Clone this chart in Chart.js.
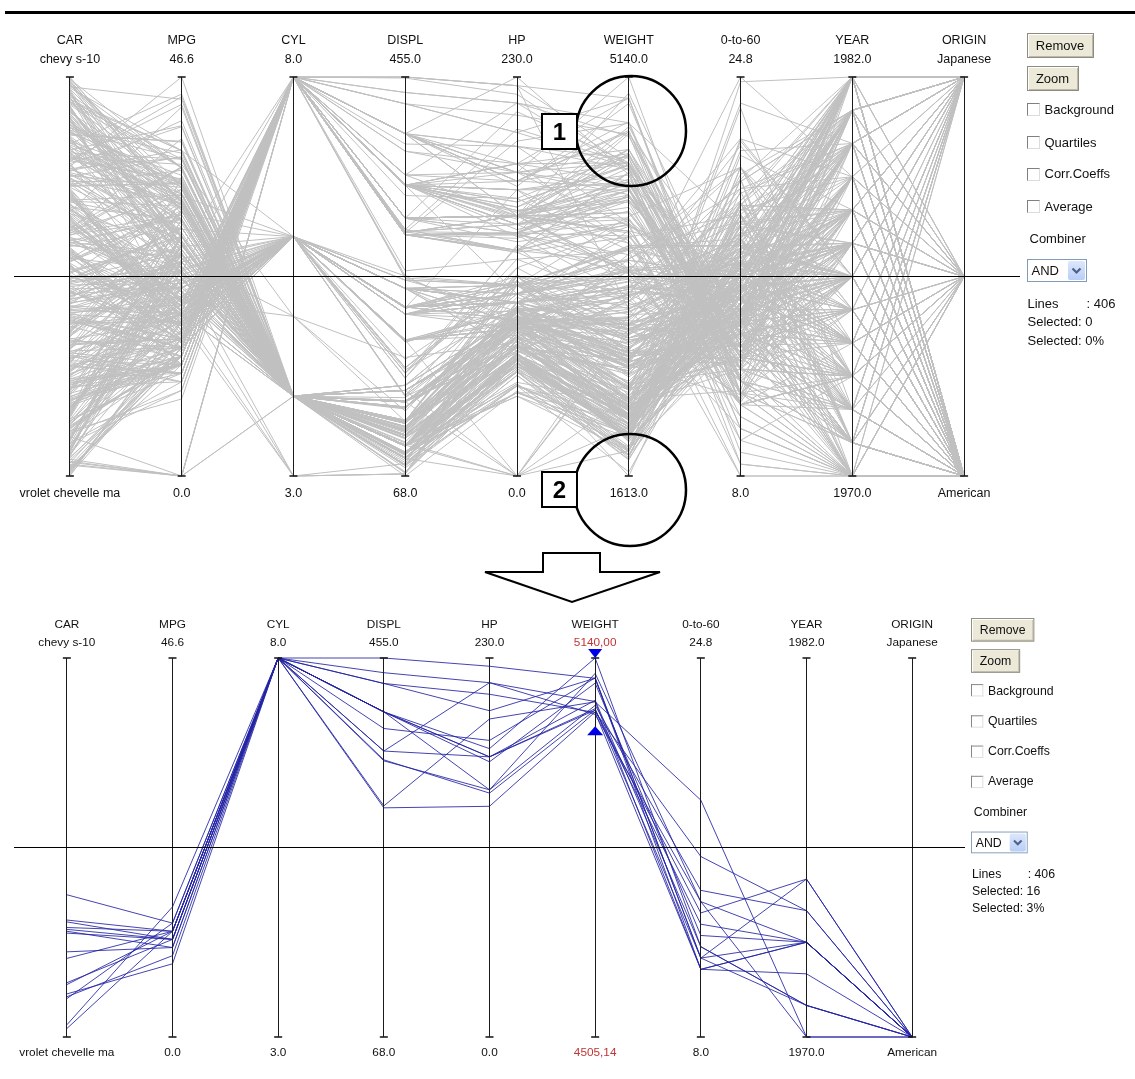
<!DOCTYPE html>
<html><head><meta charset="utf-8">
<script src="https://cdn.jsdelivr.net/npm/chart.js"></script>
<style>
html,body{margin:0;padding:0;background:#fff;}
body{width:1135px;height:1079px;position:relative;overflow:hidden;font-family:"Liberation Sans",Arial,Helvetica,sans-serif;color:#111;}
canvas{position:absolute;left:0;}
#rule{position:absolute;left:5px;top:11px;width:1130px;height:3px;background:#000;}
#overlay{position:absolute;left:0;top:0;}
.panel{position:absolute;width:130px;height:320px;transform-origin:0 0;font-size:13px;}
.btn{position:absolute;left:0;height:25px;box-sizing:border-box;background:#ece9d8;border:1px solid #8e8c80;text-align:center;line-height:23px;box-shadow:inset 1px 1px 0 #fff,inset -1px -1px 0 #bdb9a8;}
.cb{position:absolute;left:0;width:13px;height:13px;box-sizing:border-box;background:#fff;border-top:1px solid #808080;border-left:1px solid #808080;border-right:1px solid #dcdcdc;border-bottom:1px solid #dcdcdc;}
.lbl{position:absolute;height:16px;line-height:16px;white-space:nowrap;}
.sel{position:absolute;left:0;width:60px;height:23px;box-sizing:border-box;border:1px solid #7f9db9;background:#fff;}
.sel span{position:absolute;left:4px;top:0;line-height:21px;}
.dd{position:absolute;right:1px;top:1px;width:17px;height:19px;background:linear-gradient(#dde7fd,#b9cdf6);border-radius:2px;}
</style>
</head>
<body>
<div id="rule"></div>
<canvas id="c1" width="1030" height="520" style="top:0"></canvas>
<canvas id="c2" width="1030" height="519" style="top:560px"></canvas>
<svg id="overlay" width="1135" height="1079">
  <circle cx="631" cy="131" r="55" fill="none" stroke="#000" stroke-width="2.5"/>
  <rect x="542" y="114" width="35" height="35" fill="#fff" stroke="#000" stroke-width="2"/>
  <text x="559.5" y="140" font-family="Liberation Sans, Arial, sans-serif" font-size="24" font-weight="bold" text-anchor="middle">1</text>
  <circle cx="630" cy="490" r="56" fill="none" stroke="#000" stroke-width="2.5"/>
  <rect x="542" y="472" width="35" height="35" fill="#fff" stroke="#000" stroke-width="2"/>
  <text x="559.5" y="498" font-family="Liberation Sans, Arial, sans-serif" font-size="24" font-weight="bold" text-anchor="middle">2</text>
  <path d="M543,553 L600,553 L600,572 L660,572 L572,602 L485,572 L543,572 Z" fill="#fff" stroke="#000" stroke-width="2" stroke-linejoin="miter"/>
</svg>
<script>
// ---------- axes ----------
const axisNames = ['CAR','MPG','CYL','DISPL','HP','WEIGHT','0-to-60','YEAR','ORIGIN'];
const axisTopLabels = ['chevy s-10','46.6','8.0','455.0','230.0','5140.0','24.8','1982.0','Japanese'];
const axisBottomLabels = ['vrolet chevelle ma','0.0','3.0','68.0','0.0','1613.0','8.0','1970.0','American'];
const zoomTopLabels = ['chevy s-10','46.6','8.0','455.0','230.0','5140,00','24.8','1982.0','Japanese'];
const zoomBottomLabels = ['vrolet chevelle ma','0.0','3.0','68.0','0.0','4505,14','8.0','1970.0','American'];
const axisMin = [0, 0, 3, 68, 0, 1613, 8, 1970, 0];
const axisMax = [405, 46.6, 8, 455, 230, 5140, 24.8, 1982, 2];
const originNames = ['American','European','Japanese'];
const weightFilter = [4505.14, 5140];
const topStats = ['406','0','0%'];
const zoomStats = ['406','16','3%'];

// ---------- cars: [car index, mpg, cyl, displ, hp, weight, 0-to-60, year, origin] ----------
const selectedCars = [
 [43, 10, 8, 360, 215, 4615, 14, 1970, 0],
 [46, 9, 8, 304, 193, 4732, 18.5, 1970, 0],
 [123, 12, 8, 383, 180, 4955, 11.5, 1971, 0],
 [125, 13, 8, 400, 170, 4746, 12, 1971, 0],
 [117, 13, 8, 400, 175, 5140, 12, 1971, 0],
 [91, 11, 8, 429, 208, 4633, 11, 1972, 0],
 [113, 11, 8, 400, 150, 4997, 14, 1973, 0],
 [115, 12, 8, 400, 167, 4906, 12.5, 1973, 0],
 [84, 13, 8, 360, 170, 4654, 13, 1973, 0],
 [111, 12, 8, 429, 198, 4952, 11.5, 1973, 0],
 [9, 13, 8, 440, 215, 4735, 11, 1973, 0],
 [58, 12, 8, 455, 225, 4951, 11, 1973, 0],
 [152, 14, 8, 302, 140, 4638, 16, 1974, 0],
 [56, 13, 8, 350, 150, 4699, 14.5, 1974, 0],
 [41, 14, 8, 351, 148, 4657, 13.5, 1975, 0],
 [13, 16, 8, 400, 170, 4668, 11.5, 1975, 0]
];
const backgroundCars = [
 [0,18,8,307,130,3504,12,1970,0],[1,15,8,350,165,3693,11.5,1970,0],[2,18,8,318,150,3436,11,1970,0],
 [3,16,8,304,150,3433,12,1970,0],[4,17,8,302,140,3449,10.5,1970,0],[5,15,8,429,198,4341,10,1970,0],
 [6,14,8,454,220,4354,9,1970,0],[7,14,8,440,215,4312,8.5,1970,0],[8,14,8,455,225,4425,10,1970,0],
 [10,15,8,390,190,3850,8.5,1970,0],[11,0,4,133,115,3090,17.5,1970,1],[12,0,8,350,165,4142,11.5,1970,0],
 [14,0,8,351,153,4034,11,1970,0],[15,0,8,383,175,4166,10.5,1970,0],[16,14,8,340,160,3609,8,1970,0],
 [18,15,8,400,150,3761,9.5,1970,0],[19,14,8,455,225,3086,10,1970,0],[20,24,4,113,95,2372,15,1970,2],
 [21,22,6,198,95,2833,15.5,1970,0],[22,18,6,199,97,2774,15.5,1970,0],[23,21,6,200,85,2587,16,1970,0],
 [24,27,4,97,88,2130,14.5,1970,2],[25,26,4,97,46,1835,20.5,1970,1],[26,25,4,110,87,2672,17.5,1970,1],
 [27,24,4,107,90,2430,14.5,1970,1],[28,25,4,104,95,2375,17.5,1970,1],[29,26,4,121,113,2234,12.5,1970,1],
 [30,21,6,199,90,2648,15,1970,0],[33,10,8,307,200,4376,15,1970,0],[34,11,8,318,210,4382,13.5,1970,0],
 [36,27,4,97,88,2130,14.5,1971,2],[37,28,4,140,90,2264,15.5,1971,0],[38,25,4,113,95,2228,14,1971,2],
 [39,25,4,98,0,2046,19,1971,0],[40,0,4,97,48,1978,20,1971,1],[42,19,6,232,100,2634,13,1971,0],
 [44,16,6,225,105,3439,15.5,1971,0],[45,17,6,250,100,3329,15.5,1971,0],[47,19,6,250,88,3302,15.5,1971,0],
 [48,14,8,350,165,4209,12,1971,0],[49,14,8,400,175,4464,11.5,1971,0],[50,14,8,351,153,4154,13.5,1971,0],
 [51,14,8,318,150,4096,13,1971,0],[53,18,6,258,110,2962,13.5,1971,0],[54,22,4,140,72,2408,19,1971,0],
 [55,19,6,250,100,3282,15,1971,0],[57,23,4,122,86,2220,14,1971,0],[59,28,4,116,90,2123,14,1971,1],
 [60,30,4,79,70,2074,19.5,1971,1],[61,30,4,88,76,2065,14.5,1971,1],[62,31,4,71,65,1773,19,1971,2],
 [63,35,4,72,69,1613,18,1971,2],[64,27,4,97,60,1834,19,1971,1],[65,26,4,91,70,1955,20.5,1971,0],
 [66,24,4,113,95,2278,15.5,1972,2],[67,25,4,97.5,80,2126,17,1972,0],[68,23,4,97,54,2254,23.5,1972,1],
 [69,20,4,140,90,2408,19.5,1972,0],[70,21,4,122,86,2226,16.5,1972,0],[71,13,8,350,165,4274,12,1972,0],
 [72,14,8,400,175,4385,12,1972,0],[73,15,8,318,150,4135,13.5,1972,0],[75,17,8,304,150,3672,11.5,1972,0],
 [77,13,8,350,155,4502,13.5,1972,0],[78,12,8,350,160,4456,13.5,1972,0],[79,13,8,400,190,4422,12.5,1972,0],
 [80,15,8,304,150,3892,12.5,1972,0],[81,13,8,307,130,4098,14,1972,0],[82,22,4,121,76,2511,18,1972,1],
 [83,28,4,97,92,2288,17,1972,2],[85,19,3,70,97,2330,13.5,1972,2],[86,28,4,98,80,2164,15,1972,0],
 [87,23,4,120,97,2506,14.5,1972,2],[88,27,4,97,88,2100,16.5,1972,2],[89,13,8,350,175,4100,13,1973,0],
 [92,15,8,318,150,3777,12.5,1973,0],[93,13,8,350,145,3988,13,1973,0],[95,13,8,360,175,3821,11,1973,0],
 [97,13,8,351,158,4363,13,1973,0],[99,12,8,350,180,4499,12.5,1973,0],[100,18,6,232,100,2945,16,1973,0],
 [102,19,6,250,100,3282,15,1973,0],[104,16,6,250,100,3278,18,1973,0],[106,20,4,97,88,2279,19,1973,2],
 [107,22,4,108,94,2379,16.5,1973,2],[108,18,3,70,90,2124,13.5,1973,2],[109,19,4,122,85,2310,18.5,1973,0],
 [110,26,4,98,90,2265,15.5,1973,1],[112,16,8,400,230,4278,9.5,1973,0],[114,29,4,68,49,1867,19.5,1973,1],
 [116,24,4,116,75,2158,15.5,1973,1],[118,20,4,114,91,2582,14,1973,1],[119,19,4,121,112,2868,15.5,1973,1],
 [120,15,8,318,150,3399,11,1973,0],[121,24,4,121,110,2660,14,1973,1],[122,11,8,350,180,3664,11,1973,0],
 [124,20,6,198,95,3102,16.5,1974,0],[126,19,6,232,100,2901,16,1974,0],[127,15,6,250,100,3336,17,1974,0],
 [128,31,4,79,67,1950,19,1974,2],[130,26,4,122,80,2451,16.5,1974,0],[131,32,4,71,65,1836,21,1974,2],
 [132,25,4,140,75,2542,17,1974,0],[133,16,6,250,100,3781,17,1974,0],[135,21,6,200,0,2875,17,1974,0],
 [136,16,8,302,140,4141,14,1974,0],[138,14,8,318,150,4457,13.5,1974,0],[141,29,4,98,83,2219,16.5,1974,1],
 [143,26,4,79,67,1963,15.5,1974,1],[144,26,4,97,78,2300,14.5,1974,1],[145,31,4,76,52,1649,16.5,1974,2],
 [146,32,4,83,61,2003,19,1974,2],[147,28,4,90,75,2125,14.5,1974,0],[148,24,4,90,75,2108,15.5,1974,1],
 [149,26,4,116,75,2246,14,1974,1],[150,24,4,120,97,2489,15,1974,2],[151,26,4,108,93,2391,15.5,1974,2],
 [153,31,4,79,67,2000,16,1974,1],[154,19,6,225,95,3264,16,1975,0],[155,18,6,250,105,3459,16,1975,0],
 [157,15,6,250,72,3432,21,1975,0],[158,15,6,250,72,3158,19.5,1975,0],[160,15,8,350,145,4440,14,1975,0],
 [161,16,8,318,150,4498,14.5,1975,0],[164,18,6,231,110,3907,21,1975,0],[165,21,6,231,110,3039,15,1975,0],
 [166,20,8,262,110,3221,13.5,1975,0],[167,13,8,302,129,3169,12,1975,0],[169,20,6,232,100,2914,16,1975,0],
 [170,23,4,140,83,2639,17,1975,0],[172,18,6,171,97,2984,14.5,1975,0],[173,19,6,232,90,3211,17,1975,0],
 [174,29,4,90,70,1937,14,1975,1],[175,23,4,115,95,2694,15,1975,1],[176,22,4,121,98,2945,14.5,1975,1],
 [177,25,4,121,115,2671,13.5,1975,1],[178,33,4,91,53,1795,17.5,1975,2],[183,25,4,140,92,2572,14.9,1976,0],
 [186,27,4,101,83,2202,15.3,1976,1],[189,14.5,8,351,152,4215,12.8,1976,0],[190,22,6,225,100,3233,15.4,1976,0],
 [192,24,6,200,81,3012,17.6,1976,0],[194,22.5,6,232,90,3085,17.6,1976,0],[196,29,4,90,70,1937,14.2,1976,1],
 [198,24.5,4,98,60,2164,22.1,1976,0],[200,29,4,97,78,1940,14.5,1976,1],[202,20,6,225,100,3651,17.7,1976,0],
 [204,17.5,6,258,95,3193,17.8,1976,0],[206,28,4,97,75,2155,16.4,1976,2],[208,13,8,318,150,3940,13.2,1976,0],
 [210,19,4,120,88,3270,21.9,1976,1],[211,16.5,6,168,120,3820,16.7,1976,1],[213,16.5,8,350,180,4380,12.1,1976,0],
 [214,13,8,350,145,4055,12,1976,0],[215,13,8,302,130,3870,15,1976,0],[217,31.5,4,98,68,2045,18.5,1977,2],
 [220,33.5,4,85,70,1945,16.8,1977,2],[222,17.5,8,305,145,3880,12.5,1977,0],[223,15.5,8,318,145,4140,13.7,1977,0],
 [226,20.5,6,231,105,3425,16.9,1977,0],[229,16,8,400,180,4220,11.1,1977,0],[231,15.5,8,350,170,4165,11.4,1977,0],
 [234,25.5,4,140,89,2755,15.8,1977,0],[236,30.5,4,97,78,2190,14.1,1977,1],[238,21.5,3,80,110,2720,13.5,1977,2],
 [241,21.5,4,121,110,2600,12.8,1977,1],[243,19,6,225,100,3630,17.7,1977,0],[245,30,4,98,68,2155,16.5,1977,0],
 [248,36.1,4,98,66,1800,14.4,1978,0],[251,19.4,8,318,140,3735,13.2,1978,0],[254,20.2,6,200,85,2965,15.8,1978,0],
 [257,18.6,6,225,110,3620,18.7,1978,0],[260,19.2,8,305,145,3425,13.2,1978,0],[262,18.1,8,302,139,3205,11.2,1978,0],
 [264,17.7,6,231,165,3445,13.4,1978,0],[266,27.2,4,119,97,2300,14.7,1978,2],[268,43.1,4,90,48,1985,21.5,1978,1],
 [270,23.2,4,156,105,2745,16.7,1978,0],[272,20.3,5,131,103,2830,15.9,1978,1],[274,17,6,163,125,3140,13.6,1978,1],
 [276,21.6,4,121,115,2795,15.7,1978,1],[278,29.5,4,98,68,2135,16.6,1978,2],[280,32.8,4,78,52,1985,19.4,1978,2],
 [283,22.3,4,140,88,2890,17.3,1979,0],[285,17,8,305,130,3840,15.4,1979,0],[288,16.9,8,350,155,4360,14.9,1979,0],
 [291,18.5,8,360,150,3940,13,1979,0],[294,34.2,4,105,70,2200,13.2,1979,0],[297,23.9,8,260,90,3420,22.2,1979,0],
 [300,25.4,5,183,77,3530,20.1,1979,1],[302,27.2,4,141,71,3190,24.8,1979,1],[304,37.3,4,91,69,2130,14.7,1979,1],
 [306,28.4,4,151,90,2670,16,1979,0],[308,31.9,4,89,71,1925,14,1979,1],[311,32.1,4,98,70,2120,15.5,1980,0],
 [314,46.6,4,86,65,2110,17.9,1980,2],[317,40.8,4,85,65,2110,19.2,1980,2],[319,44.3,4,90,48,2085,21.7,1980,1],
 [321,43.4,4,90,48,2335,23.7,1980,1],[323,36.4,5,121,67,2950,19.9,1980,1],[325,29.8,4,89,62,1845,15.3,1980,1],
 [327,32.7,6,168,132,2910,11.4,1980,2],[329,23.7,3,70,100,2420,12.5,1980,2],[331,40.9,4,85,0,1835,17.3,1980,1],
 [333,23.6,4,140,0,2905,14.3,1980,0],[335,28,4,151,90,2678,16.5,1980,0],[337,44.6,4,91,67,1850,13.8,1980,2],
 [340,34.4,4,98,65,2045,16.2,1981,0],[343,29.9,4,98,65,2380,20.7,1981,0],[346,39.1,4,79,58,1755,16.9,1981,2],
 [349,34.5,4,100,0,2320,15.8,1981,1],[352,26.6,8,350,105,3725,19,1981,0],[355,25.4,6,168,116,2900,12.6,1981,2],
 [358,24.2,6,146,120,2930,13.8,1981,2],[361,22.4,6,231,110,3415,15.8,1981,0],[364,17.6,6,225,85,3465,16.6,1981,0],
 [367,30.7,6,145,76,3160,19.6,1981,1],[371,28,4,112,88,2605,19.6,1982,0],[374,27,4,151,90,2950,17.3,1982,0],
 [377,34,4,108,70,2245,16.9,1982,2],[380,38,6,262,85,3015,17,1982,0],[383,36,4,98,70,2125,17.3,1982,0],
 [386,32,4,144,96,2665,13.9,1982,2],[389,25,6,181,110,2945,16.4,1982,0],[392,27,4,140,86,2790,15.6,1982,0],
 [395,44,4,97,52,2130,24.6,1982,1],[398,32,4,135,84,2295,11.6,1982,0],[401,28,4,120,79,2625,18.6,1982,0],
 [403,36,4,120,88,2160,14.5,1982,2],[405,31,4,119,82,2720,19.4,1982,0],
 [17,0,8,302,140,3353,8,1970,0],[32,27,4,97,88,2130,14.5,1971,2],[35,28,4,140,90,2264,15.5,1971,0],
 [52,18,6,232,100,3288,15.5,1971,0],[74,13,8,302,140,4294,16,1972,0],[76,14,8,318,150,4077,14,1972,0],
 [90,14,8,318,150,4237,14.5,1973,0],[94,14,8,302,137,4042,14.5,1973,0],[96,15,8,318,150,3777,12.5,1973,0],
 [98,16,6,250,100,3278,18,1973,0],[101,23,6,198,95,2904,16,1973,0],[103,18,6,225,105,3121,16.5,1973,0],
 [105,26,4,97,46,1950,21,1973,1],[129,24,4,116,75,2158,15.5,1974,1],[134,16,6,258,110,3632,18,1974,0],
 [137,15,8,318,150,3399,11,1974,0],[139,18,6,225,105,3613,16.5,1974,0],[140,13,8,351,158,4363,13,1974,0],
 [142,25,4,140,75,2542,17,1974,0],[156,18,6,250,88,3021,16.5,1975,0],[159,14,8,318,150,4457,13.5,1975,0],
 [162,15,8,350,145,4082,13,1975,0],[163,16,8,302,140,3850,14,1975,0],[168,19,6,232,100,3211,17,1975,0],
 [171,24,4,134,96,2702,13.5,1975,2],[179,24,4,134,96,2702,13.5,1976,2],[180,22,4,122,86,2395,16,1976,0],
 [181,28,4,90,75,2125,14.5,1976,0],[182,25,4,116,81,2220,16.9,1976,1],[184,33,4,91,53,1795,17.4,1976,2],
 [185,22,6,250,105,3353,14.5,1976,0],[187,17.5,8,305,140,4215,13,1976,0],[188,16,8,318,150,4190,13,1976,0],
 [191,15,8,302,130,4295,14.9,1976,0],[193,16,8,400,170,4380,12.5,1976,0],[195,25,4,98,83,2075,15.9,1976,1],
 [197,24,4,90,75,2108,15.5,1976,1],[199,29,4,85,52,2035,22.2,1976,0],[201,26,4,97,75,2265,18.2,1976,2],
 [203,22,6,146,97,2815,14.5,1977,2],[205,32,4,85,70,1990,17,1976,2],[207,28,4,97,75,2155,16.4,1976,2],
 [209,26.5,4,140,72,2565,13.6,1976,0],[212,18,6,250,78,3574,21,1976,0],[216,17.5,8,318,140,4080,13.7,1978,0],
 [218,30,4,111,80,2155,14.8,1977,0],[219,31,4,91,68,1970,17.6,1977,2],[221,24,4,107,75,2190,15.5,1977,1],
 [224,20,6,232,100,2914,16,1977,0],[225,19,6,250,110,3520,16.4,1977,0],[227,17.5,6,250,110,3520,16.4,1977,0],
 [228,15,8,302,130,4295,14.9,1977,0],[230,15.5,8,400,190,4325,12.2,1977,0],[232,16,8,351,149,4335,14.5,1977,0],
 [233,29,4,97,78,1940,14.5,1977,1],[235,24.5,4,151,88,2740,16,1977,0],[237,26,4,97,78,2300,14.5,1977,1],
 [239,30,4,97,67,1985,16.4,1977,2],[240,22,6,146,97,2815,14.5,1977,2],[242,25,4,116,81,2220,16.9,1977,1],
 [244,33.5,4,98,83,2075,15.9,1977,0],[246,36,4,79,58,1825,18.6,1977,1],[247,30.5,4,98,63,2051,17,1977,0],
 [249,32.8,4,78,52,1985,19.4,1978,2],[250,39.4,4,85,70,2070,18.6,1978,2],[252,36.1,4,91,60,1800,16.4,1978,2],
 [253,19.9,8,260,110,3365,15.5,1978,0],[255,20.5,6,231,105,3380,15.8,1978,0],[256,19.4,6,232,90,3210,17.2,1978,0],
 [258,20.5,6,200,95,3155,18.2,1978,0],[259,20.8,6,200,85,3070,16.7,1978,0],[261,18.5,6,250,110,3645,16.2,1978,0],
 [263,19.2,6,231,105,3535,19.2,1978,0],[265,20.5,6,225,100,3430,17.2,1978,0],[267,20.6,6,231,105,3380,15.8,1978,0],
 [269,21.1,4,134,95,2515,14.8,1978,2],[271,23.8,4,151,85,2855,17.6,1978,0],[273,30,4,98,68,2155,16.5,1978,0],
 [275,25.5,4,122,96,2300,15.5,1977,0],[277,16.2,6,163,133,3410,15.8,1978,1],[279,31.5,4,89,71,1990,14.9,1978,1],
 [281,21.5,6,231,115,3245,15.4,1979,0],[282,19.8,6,200,85,2990,18.2,1979,0],[284,20.2,8,302,139,3570,12.8,1978,0],
 [286,17.6,8,302,129,3725,13.4,1979,0],[287,16.5,8,351,138,3955,13.2,1979,0],[289,18.2,8,318,135,3830,15.2,1979,0],
 [290,15.5,8,351,142,4054,14.3,1979,0],[292,19.2,8,267,125,3605,15,1979,0],[293,27.4,4,121,80,2670,15,1979,0],
 [295,34.1,4,86,65,1975,15.2,1979,2],[296,35.7,4,98,80,1915,14.4,1979,0],[298,27.5,4,134,95,2560,14.2,1978,2],
 [299,34.3,4,97,78,2188,15.8,1980,1],[301,31.8,4,85,65,2020,19.2,1979,2],[303,26.8,6,173,115,2700,12.9,1979,0],
 [305,33.7,4,107,75,2210,14.4,1981,2],[307,28.8,6,173,115,2595,11.3,1979,0],[309,41.5,4,98,76,2144,14.7,1980,1],
 [310,38.1,4,89,60,1968,18.8,1980,2],[312,37.2,4,86,65,2019,16.4,1980,2],[313,28,4,90,75,2125,14.5,1980,0],
 [315,26.4,4,140,88,2870,18.1,1980,0],[316,24.3,4,151,90,3003,20.1,1980,0],[318,19.1,6,225,90,3381,18.7,1980,0],
 [320,34.7,4,105,63,2215,14.9,1981,0],[322,34.3,4,97,78,2188,15.8,1980,1],[324,29.8,4,134,90,2711,15.5,1980,2],
 [326,31.3,4,120,75,2542,17.5,1980,2],[328,37,4,119,92,2434,15,1980,2],[330,32.2,4,108,75,2265,15.2,1980,2],
 [332,27.9,4,156,105,2800,14.4,1980,0],[334,32.4,4,107,72,2290,17,1980,2],[336,33.8,4,97,67,2145,18,1980,2],
 [338,32.9,4,119,100,2615,14.8,1981,2],[339,31.6,4,120,74,2635,18.3,1981,2],[341,28.1,4,141,80,3230,20.4,1981,1],
 [342,25.8,4,156,92,2620,14.4,1981,0],[344,23.5,6,173,110,2725,12.6,1981,0],[345,30,4,135,84,2385,12.9,1981,0],
 [347,39,4,86,64,1875,16.4,1981,0],[348,35.1,4,81,60,1760,16.1,1981,2],[350,32.3,4,97,67,2065,17.8,1981,2],
 [351,37,4,85,65,1975,19.4,1981,2],[353,37.7,4,89,62,2050,17.3,1981,2],[354,34,4,112,88,2395,18,1982,0],
 [356,33.7,4,107,75,2210,14.4,1981,2],[357,32.4,4,108,75,2350,16.8,1981,2],[359,32.9,4,119,100,2615,14.8,1981,2],
 [360,31.6,4,120,74,2635,18.3,1981,2],[362,28.1,4,141,80,3230,20.4,1981,1],[363,30,4,98,68,2155,16.5,1981,0],
 [365,20.2,6,200,88,3060,17.1,1981,0],[366,28,4,151,90,2678,16.5,1981,0],[368,27,4,112,88,2640,18.6,1982,0],
 [369,34,4,112,88,2395,18,1982,0],[370,31,4,112,85,2575,16.2,1982,0],[372,29,4,135,84,2525,16,1982,0],
 [373,27,4,151,90,2735,18,1982,0],[375,24,4,140,92,2865,16.4,1982,0],[376,23,4,151,0,3035,20.5,1982,0],
 [378,36,4,105,74,1980,15.3,1982,1],[379,37,4,91,68,2025,18.2,1982,2],[381,31,4,91,68,1970,17.6,1982,2],
 [382,38,4,105,63,2125,14.7,1982,0],[384,26,4,156,92,2585,14.5,1982,0],[385,22,6,232,112,2835,14.7,1982,0],
 [387,36,4,135,84,2370,13,1982,0],[388,27,4,151,90,2950,17.3,1982,0],[390,26,4,156,92,2585,14.5,1982,0],
 [391,22,6,232,112,2835,14.7,1982,0],[393,32,4,91,67,1965,15.7,1982,2],[394,38,4,91,67,1995,16.2,1982,2],
 [396,36,4,107,75,2205,14.5,1982,2],[397,34,4,108,70,2245,16.9,1982,2],[399,27,4,140,86,2790,15.6,1982,0],
 [400,33,4,105,74,2190,14.2,1982,1],[402,31,4,112,85,2575,16.2,1982,0],[404,32,4,91,67,1965,15.7,1982,2]
];

// ---------- drawing ----------
const FONT = '"Liberation Sans", Arial, Helvetica, sans-serif';
const RED = '#c03535';
const norm = (v, i) => (v - axisMin[i]) / (axisMax[i] - axisMin[i]);
const noEdge = s => { s.paddingLeft = 0; s.paddingRight = 0; s.paddingTop = 0; s.paddingBottom = 0; };

function pcChart(id, cfg) {
  const font = {family: FONT, size: cfg.fontSize};
  const tickBase = {autoSkip: false, maxRotation: 0, minRotation: 0, font: font};
  const caps = {
    data: axisNames.flatMap(n => [{x: n, y: 0}, {x: n, y: 1}]),
    showLine: false, pointStyle: 'line', pointRadius: 4, pointHoverRadius: 4,
    pointBorderColor: '#111', pointBorderWidth: 1.5, borderColor: '#111', clip: false, order: 0
  };
  const lines = cfg.rows.map(r => ({
    data: r.map((v, i) => norm(v, i)), borderColor: cfg.color, borderWidth: 1,
    pointRadius: 0, pointHoverRadius: 0, tension: 0, fill: false, clip: false, order: 2
  }));
  return new Chart(document.getElementById(id), {
    type: 'line',
    data: {labels: axisNames, datasets: [caps, ...lines]},
    options: {
      responsive: false, animation: false, events: [],
      layout: {padding: cfg.padding},
      plugins: {legend: {display: false}, tooltip: {enabled: false}},
      scales: {
        x: {position: 'bottom', offset: true,
            grid: {color: '#1a1a1a', lineWidth: 1, drawTicks: false, z: 1}, border: {display: false},
            ticks: Object.assign({}, tickBase, {padding: cfg.pad, color: c => c.index === cfg.redIndex ? RED : '#111',
                    callback: (v, i) => cfg.bottomLabels[i]}),
            afterFit: s => { s.height = 30; noEdge(s); }},
        names: {type: 'category', labels: axisNames, position: 'top', offset: true, weight: 2,
            grid: {display: false, drawTicks: false}, border: {display: false},
            ticks: Object.assign({}, tickBase, {padding: cfg.namePad, color: '#111'}),
            afterFit: s => { s.height = 30; noEdge(s); }},
        values: {type: 'category', labels: cfg.topLabels, position: 'top', offset: true, weight: 1,
            grid: {display: false, drawTicks: false}, border: {display: false},
            ticks: Object.assign({}, tickBase, {padding: cfg.pad, color: c => c.index === cfg.redIndex ? RED : '#111'}),
            afterFit: s => { s.height = cfg.h3; noEdge(s); }},
        y: {min: 0, max: 1,
            ticks: {display: false, stepSize: 0.5},
            grid: {drawTicks: false, lineWidth: 1, z: 1,
                   color: c => (c.tick && c.tick.value === 0.5) ? '#000' : 'rgba(0,0,0,0)'},
            border: {display: false},
            afterFit: s => { s.width = 0; noEdge(s); }}
      }
    },
    plugins: cfg.plugins || []
  });
}

const rangeMarks = {
  id: 'rangeMarks',
  afterDraw(chart) {
    const {ctx, scales: {x, y}} = chart;
    const i = axisNames.indexOf('WEIGHT');
    const px = x.getPixelForValue(i);
    const yHi = y.getPixelForValue(norm(weightFilter[1], i));
    const yLo = y.getPixelForValue(norm(weightFilter[0], i));
    ctx.save();
    ctx.fillStyle = '#0000e6';
    ctx.beginPath(); ctx.moveTo(px - 7, yHi - 9); ctx.lineTo(px + 7, yHi - 9); ctx.lineTo(px, yHi); ctx.closePath(); ctx.fill();
    ctx.beginPath(); ctx.moveTo(px - 8, yLo + 9); ctx.lineTo(px + 8, yLo + 9); ctx.lineTo(px, yLo); ctx.closePath(); ctx.fill();
    ctx.restore();
  }
};

pcChart('c1', {
  rows: backgroundCars.concat(selectedCars), color: '#c0c0c0',
  fontSize: 12.5, pad: 10.3, namePad: 3.2, h3: 25.3, redIndex: -1,
  topLabels: axisTopLabels, bottomLabels: axisBottomLabels,
  padding: {left: 14, right: 10, top: 21.7, bottom: 14}
});
pcChart('c2', {
  rows: selectedCars, color: 'rgba(35,35,165,0.85)',
  fontSize: 11.8, pad: 8.6, namePad: 2.9, h3: 23, redIndex: 5,
  topLabels: zoomTopLabels, bottomLabels: zoomBottomLabels,
  padding: {left: 14, right: 65, top: 45, bottom: 12},
  plugins: [rangeMarks]
});

// ---------- side controls ----------
function buildPanel(left, top, scale, stats) {
  const p = document.createElement('div');
  p.className = 'panel';
  p.style.left = left + 'px'; p.style.top = top + 'px';
  p.style.transform = 'scale(' + scale + ')';
  const boxes = ['Background', 'Quartiles', 'Corr.Coeffs', 'Average'];
  const centers = [76.7, 109.4, 141, 173.4];
  let h = '<div class="btn" style="top:0;width:67px;">Remove</div>' +
          '<div class="btn" style="top:32.5px;width:52px;">Zoom</div>';
  boxes.forEach((t, i) => {
    h += '<div class="cb" style="top:' + (centers[i] - 6.5) + 'px"></div>' +
         '<div class="lbl" style="left:18px;top:' + (centers[i] - 8) + 'px">' + t + '</div>';
  });
  h += '<div class="lbl" style="left:3px;top:197.7px">Combiner</div>';
  h += '<div class="sel" style="top:226px"><span>AND</span><div class="dd">' +
       '<svg width="17" height="19"><path d="M4.5,7.5 L8.5,11.5 L12.5,7.5" fill="none" stroke="#4d6185" stroke-width="2.2"/></svg></div></div>';
  h += '<div class="lbl" style="left:1px;top:262.7px">Lines</div><div class="lbl" style="left:60px;top:262.7px">: ' + stats[0] + '</div>';
  h += '<div class="lbl" style="left:1px;top:281px">Selected: ' + stats[1] + '</div>';
  h += '<div class="lbl" style="left:1px;top:299.4px">Selected: ' + stats[2] + '</div>';
  p.innerHTML = h;
  document.body.appendChild(p);
}
buildPanel(1026.5, 33.3, 1, topStats);
buildPanel(971, 618, 0.945, zoomStats);
</script>
</body></html>
